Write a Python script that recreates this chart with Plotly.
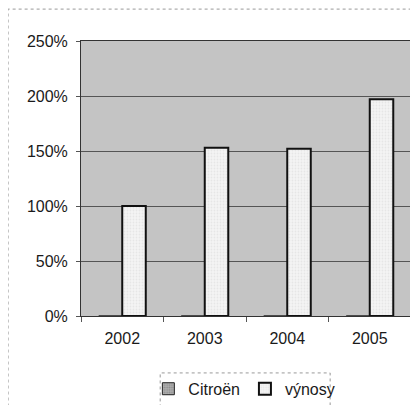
import plotly.graph_objects as go

years = ["2002", "2003", "2004", "2005"]
citroen = [0, 0, 0, 0]
vynosy = [1.00, 1.53, 1.52, 1.97]
y_ticks = [0, 0.5, 1.0, 1.5, 2.0, 2.5]
y_labels = ["0%", "50%", "100%", "150%", "200%", "250%"]

fig = go.Figure()
fig.add_trace(go.Bar(
    x=years, y=citroen, name="Citroën",
    marker=dict(color="#a8a8a8", line=dict(color="#222222", width=1),
                pattern=dict(shape=".", fgcolor="#666666", bgcolor="#b0b0b0", size=3, solidity=0.4)),
))
fig.add_trace(go.Bar(
    x=years, y=vynosy, name="výnosy",
    marker=dict(color="#f2f2f2", line=dict(color="#111111", width=2),
                pattern=dict(shape=".", fgcolor="#d8d8d8", bgcolor="#f4f4f4", size=3, solidity=0.3)),
))

# page body has an 8px margin, so the figure is 8px smaller and margins shifted
fig.update_layout(
    width=410, height=397,
    margin=dict(l=73, r=7, t=33, b=89, autoexpand=False),
    paper_bgcolor="white",
    plot_bgcolor="#c4c4c4",
    barmode="group",
    bargap=0.43, bargroupgap=0,
    font=dict(family="Liberation Sans, Arial, sans-serif", size=16, color="#1a1a1a"),
    showlegend=True,
    legend=dict(orientation="h", x=0.495, xanchor="center", y=-0.203, yanchor="top",
                borderwidth=0, bgcolor="rgba(0,0,0,0)",
                font=dict(size=16), traceorder="normal",
                itemwidth=30, tracegroupgap=0),
    xaxis=dict(type="category", showgrid=False, ticks="outside", ticklen=5,
               tickson="boundaries", tickcolor="#555555", automargin=False,
               showline=True, linecolor="#333333", linewidth=1, mirror=True,
               ticklabelstandoff=8, tickfont=dict(size=16)),
    yaxis=dict(range=[0, 2.5], tickvals=y_ticks, ticktext=y_labels,
               showgrid=True, gridcolor="#555555", gridwidth=1, automargin=False,
               ticks="outside", ticklen=4, tickcolor="#555555",
               showline=True, linecolor="#333333", linewidth=1, mirror=True,
               ticklabelstandoff=5,
               zeroline=False, tickfont=dict(size=16)),
    shapes=[
        dict(type="rect", xref="paper", yref="paper",
             x0=-0.221, x1=1.03, y0=-0.36, y1=1.116,
             line=dict(color="#999999", width=1, dash="dot"), layer="below"),
        dict(type="rect", xref="paper", yref="paper",
             x0=0.24, x1=0.755, y0=-0.34, y1=-0.207,
             line=dict(color="#999999", width=1, dash="dot"), layer="below"),
    ],
)

fig.write_html("out.html")
